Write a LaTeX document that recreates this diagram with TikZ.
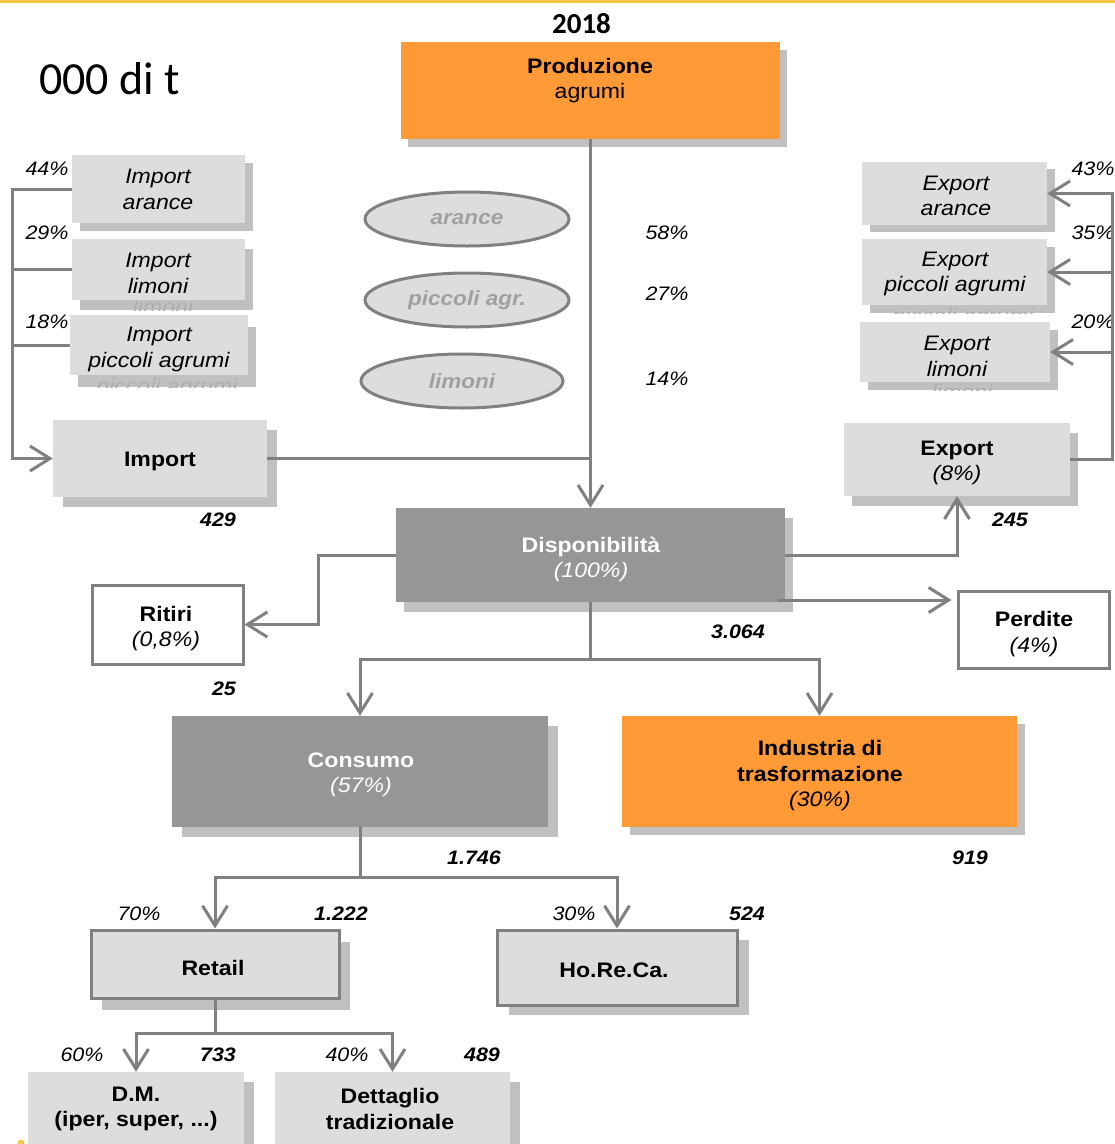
\documentclass[tikz,border=0pt]{standalone}
\usepackage{fontspec}
\setmainfont{Liberation Sans}[FakeStretch=1.1]
\newfontfamily\calfont{Carlito}
\usetikzlibrary{arrows.meta,shapes.geometric,shadows,calc}
\definecolor{lgray}{RGB}{128,128,128}
\definecolor{boxfill}{RGB}{221,221,221}
\definecolor{shadowc}{RGB}{192,192,192}
\definecolor{darkfill}{RGB}{150,150,150}
\definecolor{orangefill}{RGB}{255,154,54}
\definecolor{ghostc}{RGB}{175,175,175}
\definecolor{ygold}{RGB}{246,200,70}
\definecolor{elltext}{RGB}{160,160,160}
\begin{document}
\begin{tikzpicture}[x=1pt,y=-1pt,
  conn/.style={draw=lgray, line width=3pt},
  arr/.style={conn, -{Straight Barb[length=20pt,width=25pt]}},
  shd/.style 2 args={drop shadow={shadow xshift=#1pt, shadow yshift=-#2pt, fill=shadowc, opacity=1}},
  boxbase/.style={rectangle, inner sep=0pt},
  lbox/.style={boxbase, fill=boxfill},
  bbox/.style={boxbase, fill=boxfill, draw=lgray, line width=3pt},
  wbox/.style={boxbase, fill=white, draw=lgray, line width=3pt},
  dbox/.style={boxbase, fill=darkfill},
  obox/.style={boxbase, fill=orangefill},
  ell/.style={ellipse, fill=boxfill, draw=lgray, line width=3pt, inner sep=0pt,
     font=\fontsize{20.5}{24}\selectfont\bfseries\itshape, text=elltext},
  txt/.style={inner sep=0pt, align=center, font=\fontsize{21}{25.5}\selectfont},
  btxt/.style={txt, font=\fontsize{21}{25.5}\selectfont\bfseries},
  itxt/.style={txt, font=\fontsize{21}{25.5}\selectfont\itshape},
  ghost/.style={itxt, text=ghostc},
  num/.style={inner sep=0pt, font=\fontsize{19.5}{22}\selectfont\bfseries\itshape},
  pct/.style={inner sep=0pt, font=\fontsize{19.5}{22}\selectfont\itshape},
]
\useasboundingbox (0,0) rectangle (1115,1144);
\fill[white] (0,0) rectangle (1115,1144);
\draw[ygold, line width=3pt] (0,1) -- (1115,1);
\fill[ygold] (21,1143) circle (3.5);

% titles
\node[inner sep=0pt, anchor=west, font=\calfont\fontsize{46}{50}\selectfont] (unit) at (39,79) {000 di t};
\node[inner sep=0pt, font=\calfont\fontsize{29}{32}\selectfont\bfseries] (year) at (581.5,24) {2018};

% production
\node[obox, shd={7}{8}, minimum width=379pt, minimum height=97pt] (prod) at (590.5,90.5) {};
\node[txt] (prodt) at (590,80.5) {\textbf{Produzione}\\agrumi};

% ellipses
\node[ell, minimum width=204pt, minimum height=54pt] (e1) at (467,219) {arance};
\node[ell, minimum width=204pt, minimum height=54pt] (e2) at (467,300) {piccoli agr.};
\node[ell, minimum width=202pt, minimum height=54pt] (e3) at (462,381) {limoni};
\node[pct] (p58) at (667,233) {58\%};
\node[pct] (p27) at (667,294) {27\%};
\node[pct] (p14) at (667,379) {14\%};

% import sub boxes
\node[lbox, shd={8}{8}, minimum width=173pt, minimum height=68pt] (impA) at (158.5,189) {};
\node[itxt] (impAt) at (158,189.5) {Import\\arance};
\node[lbox, shd={8}{10}, minimum width=173pt, minimum height=61pt] (impL) at (158.5,269.5) {};
\begin{scope}\clip (72,301.5) rectangle (253,310); \node[ghost] (impLg) at (163,307) {limoni}; \end{scope}
\node[itxt] (impLt) at (158,273.5) {Import\\limoni};
\node[lbox, shd={8}{12}, minimum width=178pt, minimum height=60pt] (impP) at (159,345) {};
\begin{scope}\clip (70,376.5) rectangle (257,387); \node[ghost] (impPg) at (167,388) {piccoli agrumi}; \end{scope}
\node[itxt] (impPt) at (159,349.5) {Import\\piccoli agrumi};
\node[pct] (p44) at (47,169) {44\%};
\node[pct] (p29) at (47,233) {29\%};
\node[pct] (p18) at (47,322) {18\%};

% import
\node[lbox, shd={10}{10}, minimum width=214pt, minimum height=77pt] (imp) at (160,458.5) {};
\node[btxt] (impt) at (160,461) {Import};
\node[num] (n429) at (218,520) {429};

% export sub boxes
\node[lbox, shd={8}{7}, minimum width=185pt, minimum height=63pt] (expA) at (954.5,193.5) {};
\node[itxt] (expAt) at (956,196) {Export\\arance};
\node[lbox, shd={8}{8}, minimum width=185pt, minimum height=66pt] (expP) at (954.5,272) {};
\begin{scope}\clip (862,306.5) rectangle (1055,313); \node[ghost] (expPg) at (963,318) {piccoli agrumi}; \end{scope}
\node[itxt] (expPt) at (955,274) {Export\\piccoli agrumi};
\node[lbox, shd={8}{8}, minimum width=190pt, minimum height=60pt] (expL) at (955,352) {};
\begin{scope}\clip (860,383.5) rectangle (1058,390); \node[ghost] (expLg) at (962,392) {limoni}; \end{scope}
\node[itxt] (expLt) at (957,356.5) {Export\\limoni};
\node[pct] (p43) at (1093,169) {43\%};
\node[pct] (p35) at (1093,233) {35\%};
\node[pct] (p20) at (1093,322) {20\%};

% export
\node[lbox, shd={8}{10}, minimum width=226pt, minimum height=73pt] (exp) at (957,459.5) {};
\node[txt] (expt) at (957,463) {\textbf{Export}\\\textit{(8\%)}};
\node[num] (n245) at (1010,520) {245};

% disponibilita
\node[dbox, shd={8}{10}, minimum width=389pt, minimum height=94pt] (disp) at (590.5,555) {};
\node[txt, text=white] (dispt) at (591,559.5) {\textbf{Disponibilità}\\\textit{(100\%)}};
\node[num] (n3064) at (738,632) {3.064};

% ritiri, perdite
\node[wbox, minimum width=151pt, minimum height=79pt] (ritiri) at (167.5,624.5) {};
\node[txt] (ritirit) at (166,628.5) {\textbf{Ritiri}\\\textit{(0,8\%)}};
\node[num] (n25) at (224,689) {25};
\node[wbox, minimum width=151pt, minimum height=77pt] (perdite) at (1033.5,629.5) {};
\node[txt] (perditet) at (1034,634) {\textbf{Perdite}\\\textit{(4\%)}};

% consumo, industria
\node[dbox, shd={10}{10}, minimum width=376pt, minimum height=111pt] (cons) at (360,771.5) {};
\node[txt, text=white] (const) at (361,775) {\textbf{Consumo}\\\textit{(57\%)}};
\node[num] (n1746) at (474,858) {1.746};
\node[obox, shd={8}{8}, minimum width=395pt, minimum height=111pt] (ind) at (819.5,771.5) {};
\node[txt] (indt) at (820,776) {\textbf{Industria di}\\\textbf{trasformazione}\\\textit{(30\%)}};
\node[num] (n919) at (970,858) {919};

% retail, horeca
\node[bbox, shd={11}{12}, minimum width=248pt, minimum height=68pt] (retail) at (215,964) {};
\node[btxt] (retailt) at (213,968) {Retail};
\node[pct] (p70) at (139,914) {70\%};
\node[num] (n1222) at (341,914) {1.222};
\node[bbox, shd={12}{10}, minimum width=240pt, minimum height=75pt] (horeca) at (617,967.5) {};
\node[btxt] (horecat) at (614,970) {Ho.Re.Ca.};
\node[pct] (p30) at (574,914) {30\%};
\node[num] (n524) at (747,914) {524};

% DM, dettaglio
\node[lbox, shd={10}{10}, minimum width=216pt, minimum height=88pt] (dm) at (136,1116) {};
\node[btxt] (dmt) at (136,1109) {D.M.\\(iper, super, ...)};
\node[pct] (p60) at (82,1055) {60\%};
\node[num] (n733) at (218,1055) {733};
\node[lbox, shd={10}{10}, minimum width=235pt, minimum height=88pt] (dett) at (392.5,1116) {};
\node[btxt] (dettt) at (390,1109) {Dettaglio\\tradizionale};
\node[pct] (p40) at (347,1055) {40\%};
\node[num] (n489) at (482,1055) {489};

% coordinates
\coordinate (busL) at (12,0);
\coordinate (busR) at (1112,0);
\coordinate (rx) at (318,0);
\coordinate (s1) at (0,659);
\coordinate (s2) at (0,877);
\coordinate (s3) at (0,1033);
\coordinate (pd) at (778,600);

% connectors
\draw[arr] (prod.south) -- (prod.south |- disp.north);
\draw[conn] (imp.east) -- (imp.east -| prod.south);
\draw[arr] (impA.west) -- (impA.west -| busL) -- (busL |- imp.west) -- (imp.west);
\draw[conn] (impL.west) -- (impL.west -| busL);
\draw[conn] (impP.west) -- (impP.west -| busL);
\draw[arr] (exp.east) -- (exp.east -| busR) -- (busR |- expA.east) -- (expA.east);
\draw[arr] (busR |- expP.east) -- (expP.east);
\draw[arr] (busR |- expL.east) -- (expL.east);
\draw[arr] (disp.east) -| (exp.south);
\draw[arr, shorten >=5pt] (pd) -- (pd -| perdite.west);
\draw[arr] (disp.west) -- (disp.west -| rx) |- (ritiri.east);
\draw[arr] (disp.south) -- (disp.south |- s1) -| (cons.north);
\draw[arr] (disp.south |- s1) -| (ind.north);
\draw[arr] (cons.south) -- (cons.south |- s2) -| (retail.north);
\draw[arr] (cons.south |- s2) -| (horeca.north);
\draw[arr] (retail.south) -- (retail.south |- s3) -| (dm.north);
\draw[arr] (retail.south |- s3) -| (dett.north);
\end{tikzpicture}
\end{document}
